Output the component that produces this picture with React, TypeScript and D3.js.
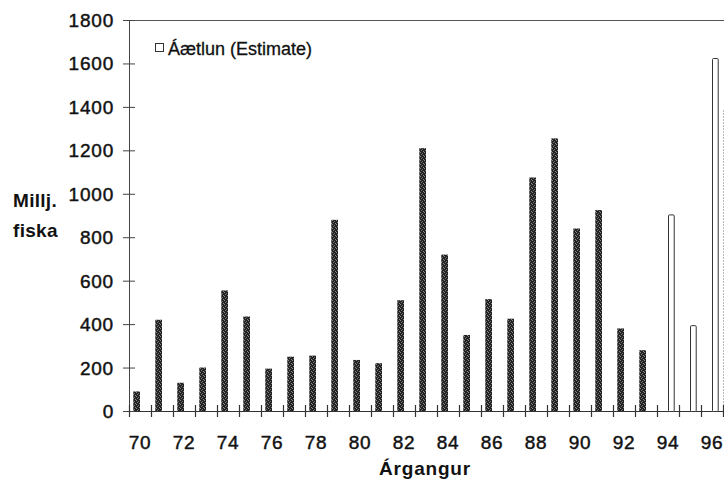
import React from "react";
import * as d3 from "d3";

const years = [70,71,72,73,74,75,76,77,78,79,80,81,82,83,84,85,86,87,88,89,90,91,92,93,94,95,96,97];
const measuredYears = [70,71,72,73,74,75,76,77,78,79,80,81,82,83,84,85,86,87,88,89,90,91,92,93];
const measuredValues = [90,420,130,200,555,435,195,250,255,880,235,220,510,1210,720,350,515,425,1075,1255,840,925,380,280];
const estimateYears = [94,95,96];
const estimateValues = [905,395,1625];
const yTicks = [0,200,400,600,800,1000,1200,1400,1600,1800];
const xLabels = [70,72,74,76,78,80,82,84,86,88,90,92,94,96];
const legendLabel = "Áætlun (Estimate)";
const yTitle = ["Millj.", "fiska"];
const xTitle = "Árgangur";

export default function App() {
  const W = 724, H = 483;
  const left = 129, top = 20, bottom = 411;
  const x = d3.scaleBand<number>().domain(years).range([left, left + years.length * 22]).padding(0);
  const y = d3.scaleLinear().domain([0, 1800]).range([bottom, top]);
  const bw = x.bandwidth();
  const barW = bw * 0.305;
  const font = "'Liberation Sans', Arial, sans-serif";
  const boundaries = years.map((yr) => x(yr)!).concat([x(years[years.length - 1])! + bw]);
  const heavy = { stroke: "#111", strokeWidth: 0.45 } as const;

  return (
    <svg width={W} height={H} style={{ display: "block", position: "absolute", left: 0, top: 0, background: "#fff" }}>
      <defs>
        <pattern id="dither" width="4" height="4" patternUnits="userSpaceOnUse">
          <rect width="4" height="4" fill="#222" />
          <rect x="0" y="0" width="1" height="1" fill="#8a8a8a" />
          <rect x="2" y="1" width="1" height="1" fill="#6a6a6a" />
          <rect x="1" y="2" width="1" height="1" fill="#7a7a7a" />
          <rect x="3" y="3" width="1" height="1" fill="#8a8a8a" />
        </pattern>
      </defs>
      {/* plot frame */}
      <line x1={left} x2={W} y1={top + 0.5} y2={top + 0.5} stroke="#555" strokeWidth={1} />
      <line x1={723.5} x2={723.5} y1={110} y2={bottom} stroke="#bbb" strokeWidth={1} strokeDasharray="2,1" />
      <line x1={left + 0.5} x2={left + 0.5} y1={top} y2={bottom + 6} stroke="#444" strokeWidth={1} />
      <line x1={left - 6} x2={W} y1={bottom + 0.5} y2={bottom + 0.5} stroke="#333" strokeWidth={1.2} />
      {/* y ticks */}
      {yTicks.map((t) => (
        <g key={t}>
          <line x1={left - 6} x2={left + 6} y1={y(t) + 0.5} y2={y(t) + 0.5} stroke="#444" strokeWidth={1} />
          <text x={114} y={y(t) + 7} textAnchor="end" fontFamily={font} fontSize={19} letterSpacing={0.8} fill="#111" {...heavy}>{t}</text>
        </g>
      ))}
      {/* x ticks */}
      {boundaries.map((b, i) => (
        <line key={i} x1={b + 0.5} x2={b + 0.5} y1={bottom - 6} y2={bottom + 6} stroke="#333" strokeWidth={1.2} />
      ))}
      {xLabels.map((l) => (
        <text key={l} x={x(l)! + bw / 2} y={449} textAnchor="middle" fontFamily={font} fontSize={19} letterSpacing={0.8} fill="#111" {...heavy}>{l}</text>
      ))}
      {/* measured bars */}
      {measuredYears.map((yr, i) => (
        <rect key={yr} x={x(yr)! + bw / 2 - barW} y={y(measuredValues[i])} width={barW} height={bottom - y(measuredValues[i])} fill="url(#dither)" />
      ))}
      {/* estimate bars */}
      {estimateYears.map((yr, i) => (
        <rect key={yr} x={x(yr)! + bw / 2 + 0.5} y={y(estimateValues[i]) + 0.5} width={barW - 1} height={bottom - y(estimateValues[i])} fill="#fff" stroke="#333" strokeWidth={1} rx={1} />
      ))}
      {/* legend */}
      <rect x={155.5} y={43.5} width={8} height={8} fill="#fff" stroke="#333" strokeWidth={1} />
      <text x={168} y={55} fontFamily={font} fontSize={18} fill="#111" {...heavy} strokeWidth={0.3}>{legendLabel}</text>
      {/* axis titles */}
      <text x={13} y={207} fontFamily={font} fontSize={19} fontWeight="bold" letterSpacing={0.3} fill="#111">{yTitle[0]}</text>
      <text x={13} y={237} fontFamily={font} fontSize={19} fontWeight="bold" letterSpacing={0.3} fill="#111">{yTitle[1]}</text>
      <text x={425} y={475} textAnchor="middle" fontFamily={font} fontSize={19} fontWeight="bold" letterSpacing={0.8} fill="#111">{xTitle}</text>
    </svg>
  );
}
